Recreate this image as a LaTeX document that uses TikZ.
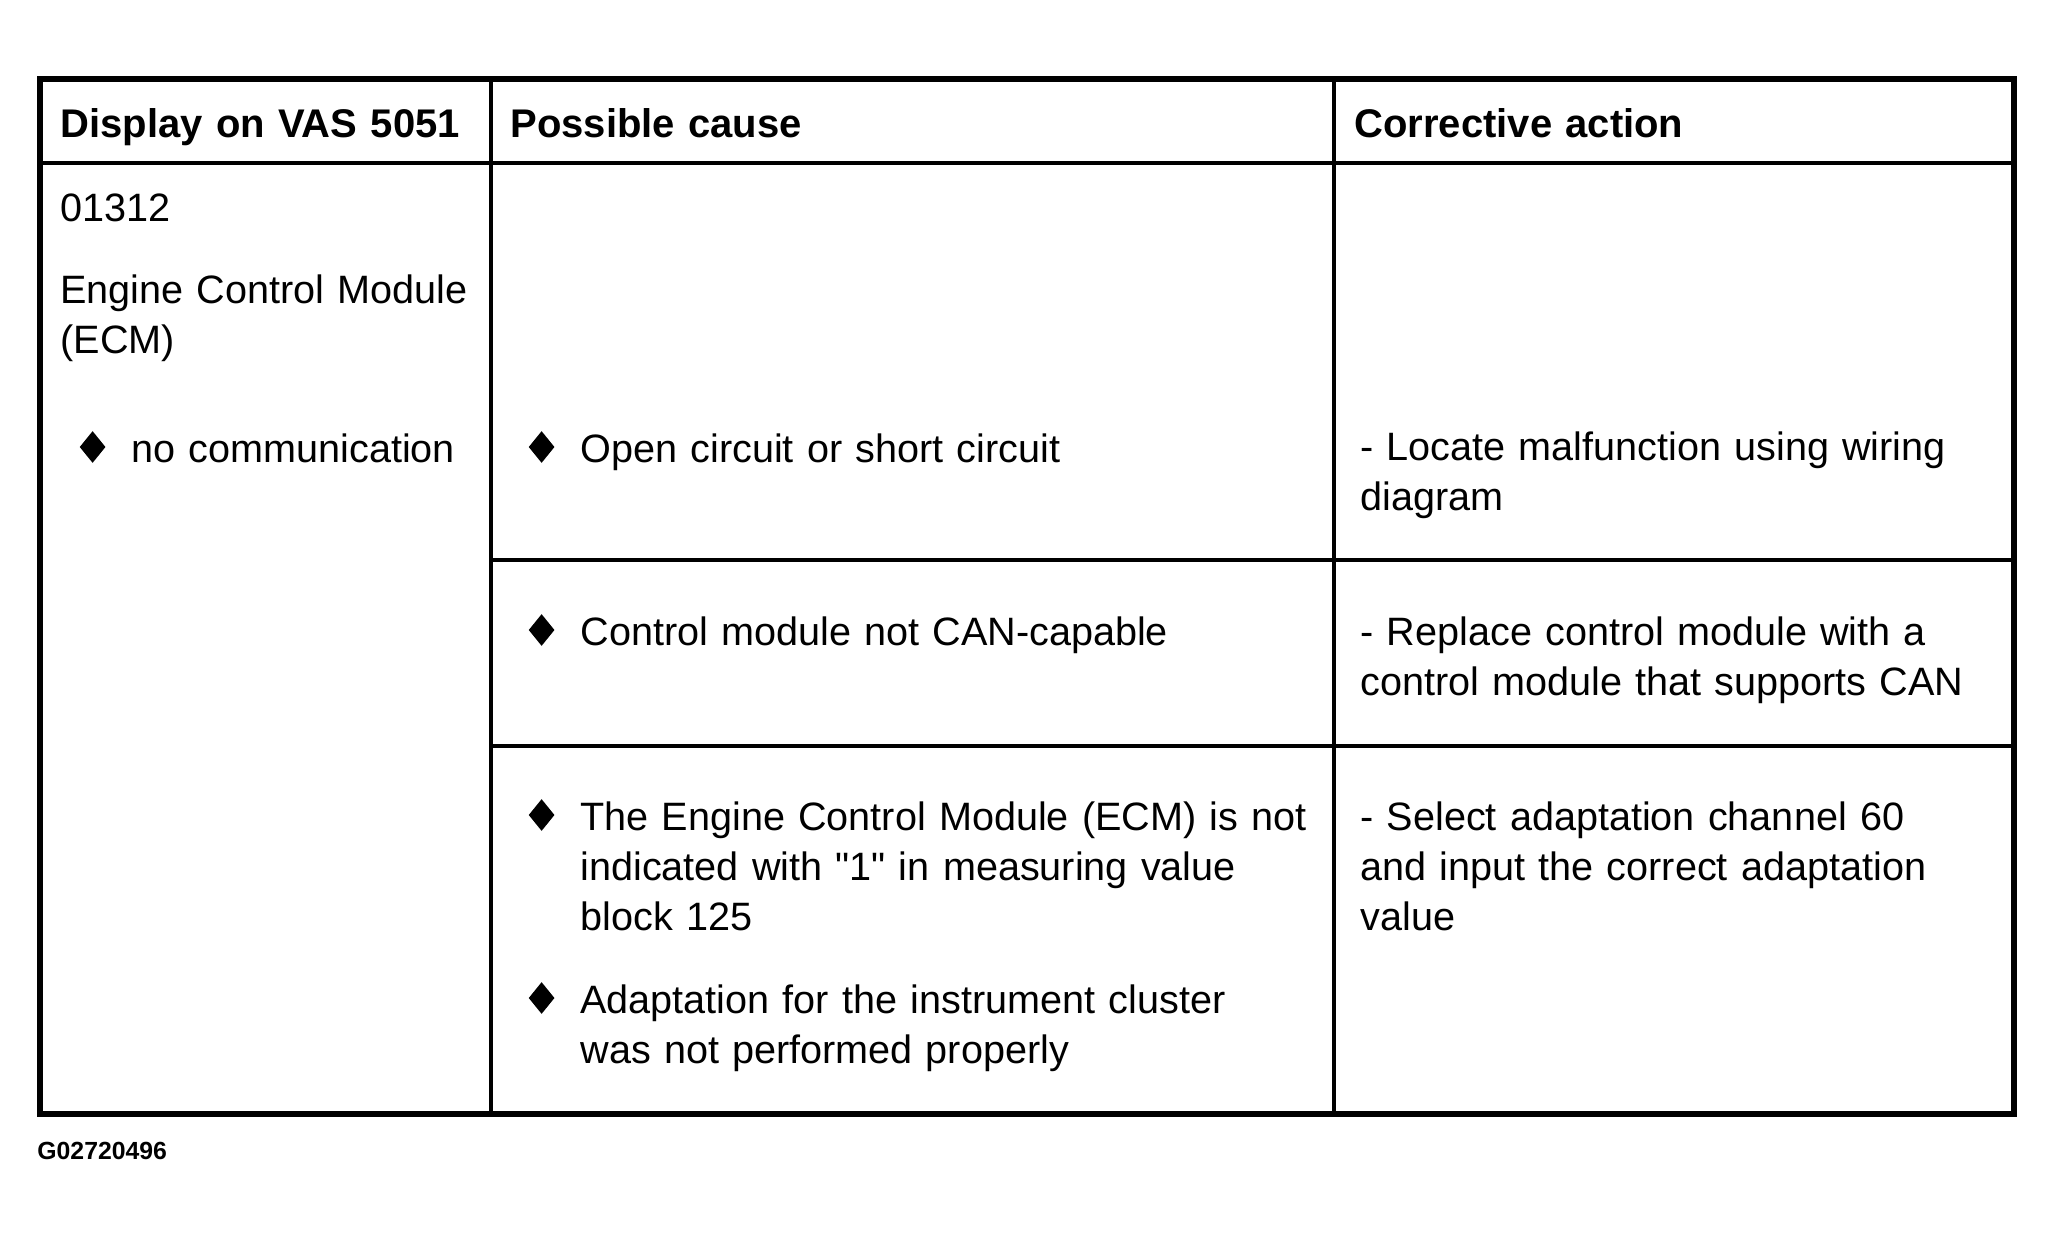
\documentclass[tikz,border=0pt]{standalone}
\usepackage{fontspec}
\setmainfont{Liberation Sans}[Ligatures=TeXOff]
\usetikzlibrary{positioning,shapes.geometric}
\tikzset{
	cell/.style={anchor=base west, inner sep=0pt, text width=420pt, align=left,
		font=\fontsize{19.8}{25}\selectfont},
	head/.style={cell, font=\fontsize{20}{25}\selectfont\bfseries},
	bul/.style={diamond, fill=black, draw=none, inner sep=0pt,
		minimum width=13pt, minimum height=16pt},
	frame/.style={line width=2.75pt},
	rule/.style={line width=1.75pt}
}
\begin{document}
\begin{tikzpicture}[x=0.5pt,y=-0.5pt]
	\useasboundingbox (0,0) rectangle (2054,1236);
	% table rules
	\draw [rule] (40,163)--(2014,163);
	\draw [rule] (491,79)--(491,1114);
	\draw [rule] (1334,79)--(1334,1114);
	\draw [rule] (491,560)--(2014,560);
	\draw [rule] (491,746)--(2014,746);
	\draw [frame] (40,79) rectangle (2014,1114);
	% header row
	\node [head] (hdisp) at (60,137) {Display on VAS 5051};
	\node [head] (hcause) at (510,137) {Possible cause};
	\node [head] (haction) at (1354,137) {Corrective action};
	% display column
	\node [cell] (code) at (60,221) {01312};
	\node [cell] (ecm) at (60,303) {Engine Control Module\\(ECM)};
	\node [cell] (nocom) at (131,462) {no communication};
	\node [bul, left=12.5pt of nocom.base west, yshift=7.5pt] (bnocom) {};
	% possible causes
	\node [cell] (open) at (580,462) {Open circuit or short circuit};
	\node [bul, left=12.5pt of open.base west, yshift=7.5pt] (bopen) {};
	\node [cell] (notcan) at (580,645) {Control module not CAN-capable};
	\node [bul, left=12.5pt of notcan.base west, yshift=7.5pt] (bnotcan) {};
	\node [cell] (block) at (580,830) {The Engine Control Module (ECM) is not\\indicated with "1" in measuring value\\block 125};
	\node [bul, left=12.5pt of block.base west, yshift=7.5pt] (bblock) {};
	\node [cell] (adapt) at (580,1013) {Adaptation for the instrument cluster\\was not performed properly};
	\node [bul, left=12.5pt of adapt.base west, yshift=7.5pt] (badapt) {};
	% corrective actions
	\node [cell] (locate) at (1360,460) {- Locate malfunction using wiring\\diagram};
	\node [cell] (replace) at (1360,645) {- Replace control module with a\\control module that supports CAN};
	\node [cell] (select) at (1360,830) {- Select adaptation channel 60\\and input the correct adaptation\\value};
	% figure number
	\node [anchor=base west, inner sep=0pt, font=\fontsize{12.4}{14}\selectfont\bfseries] (fignum) at (37,1159) {G02720496};
\end{tikzpicture}
\end{document}
